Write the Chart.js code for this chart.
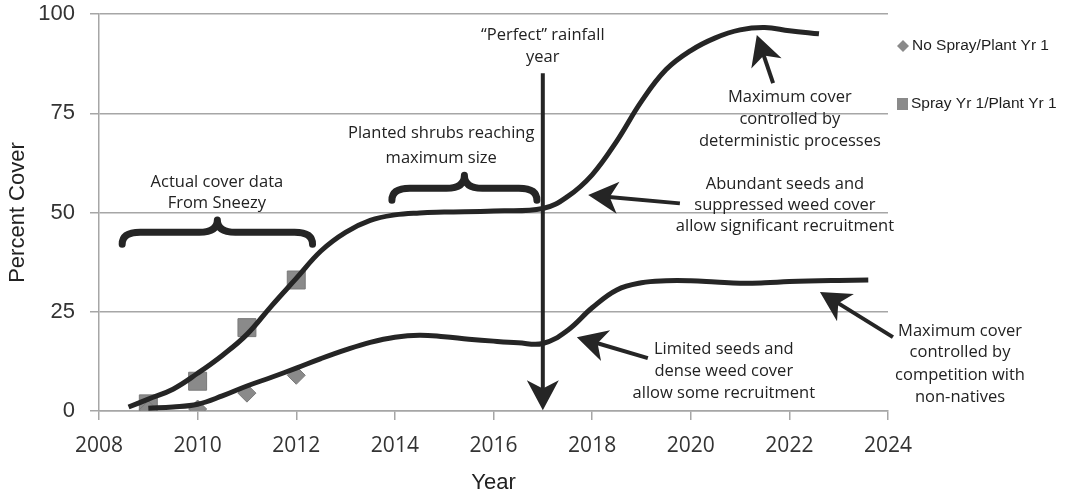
<!DOCTYPE html>
<html>
<head>
<meta charset="utf-8">
<title>Percent cover by year</title>
<script src="https://cdn.jsdelivr.net/npm/chart.js@4.4.1/dist/chart.umd.min.js"></script>
<style>
  html, body { margin: 0; padding: 0; background: #fff; }
  #wrap { width: 1067px; height: 494px; }
</style>
</head>
<body>
<div id="wrap"><canvas id="coverChart" width="1067" height="494"></canvas></div>
<script>
// measured cover (percent), one value per sampled year
const sampleYears = [2009, 2010, 2011, 2012];
const noSprayCover = [0.3, 0.5, 4.5, 9];
const sprayCover = [1.8, 7.5, 21, 33];

// projected trajectories, half-year steps
const sprayTrendYears = [2008.6, 2009, 2009.5, 2010, 2010.5, 2011, 2011.5, 2012, 2012.5, 2013,
                         2013.5, 2014, 2014.5, 2015, 2016, 2017, 2017.5, 2018, 2018.5, 2019,
                         2019.5, 2020, 2020.5, 2021, 2021.5, 2022, 2022.6];
const sprayTrend = [1, 3, 5.5, 9.5, 14, 19.3, 26.5, 33.4, 40.3, 45,
                    48, 49.4, 49.9, 50.1, 50.4, 51, 54, 59.5, 68, 78,
                    86, 90.8, 94, 96, 96.6, 95.8, 95];
const noSprayTrendYears = [2009, 2009.5, 2010, 2010.5, 2011, 2011.5, 2012, 2012.5, 2013, 2013.5,
                           2014, 2014.5, 2015, 2015.5, 2016, 2016.5, 2017, 2017.5, 2018, 2018.5,
                           2019, 2019.5, 2020, 2020.5, 2021, 2021.5, 2022, 2023, 2023.6];
const noSprayTrend = [0.7, 1, 1.7, 3.8, 6.3, 8.5, 10.8, 13.2, 15.4, 17.3,
                      18.6, 19.1, 18.7, 18.1, 17.6, 17.2, 17, 20.3, 26, 30.5,
                      32.3, 32.8, 32.8, 32.5, 32.2, 32.3, 32.6, 32.9, 33];

// axis ticks
const yearTicks = [2008, 2010, 2012, 2014, 2016, 2018, 2020, 2022, 2024];
const coverTicks = [0, 25, 50, 75, 100];

// legend labels
const seriesNames = ['No Spray/Plant Yr 1', 'Spray Yr 1/Plant Yr 1'];

// callouts, placed in year / percent units
const noteLines = [
  { x: 2010.39, y: 57.6, text: 'Actual cover data' },
  { x: 2010.39, y: 52.3, text: 'From Sneezy' },
  { x: 2014.94, y: 70.0, text: 'Planted shrubs reaching' },
  { x: 2014.94, y: 63.7, text: 'maximum size' },
  { x: 2017.0, y: 94.7, text: '\u201CPerfect\u201D rainfall' },
  { x: 2017.0, y: 89.2, text: 'year' },
  { x: 2022.01, y: 79.0, text: 'Maximum cover' },
  { x: 2022.01, y: 73.5, text: 'controlled by' },
  { x: 2022.01, y: 68.0, text: 'deterministic processes' },
  { x: 2021.91, y: 57.1, text: 'Abundant seeds and' },
  { x: 2021.91, y: 51.8, text: 'suppressed weed cover' },
  { x: 2021.91, y: 46.5, text: 'allow significant recruitment' },
  { x: 2020.67, y: 15.5, text: 'Limited seeds and' },
  { x: 2020.67, y: 10.0, text: 'dense weed cover' },
  { x: 2020.67, y: 4.5, text: 'allow some recruitment' },
  { x: 2025.46, y: 20.1, text: 'Maximum cover' },
  { x: 2025.46, y: 14.8, text: 'controlled by' },
  { x: 2025.46, y: 9.0, text: 'competition with' },
  { x: 2025.46, y: 3.5, text: 'non-natives' }
];

// arrows: tail -> tip
const arrows = [
  { from: [2017.0, 85.1], to: [2017.0, 0.2] },
  { from: [2021.67, 82.6], to: [2021.34, 94.7] },
  { from: [2019.78, 52.3], to: [2017.92, 54.4] },
  { from: [2019.13, 13.3], to: [2017.69, 18.6] },
  { from: [2024.1, 18.6], to: [2022.62, 30.0] }
];

// curly braces: x range, end / body / peak heights
const braces = [
  { x0: 2008.47, x1: 2012.33, end: 42.0, body: 45.0, peak: 48.1 },
  { x0: 2013.94, x1: 2016.88, end: 53.1, body: 56.1, peak: 59.4 }
];

const INK = '#252525';
const GRID = '#a6a6a6';
const MARKER = '#8a8a8a';

const toPoints = (xs, ys) => xs.map((x, i) => ({ x, y: ys[i] }));

function drawArrow(ctx, tx, ty, hx, hy) {
  const ang = Math.atan2(hy - ty, hx - tx);
  const ux = Math.cos(ang), uy = Math.sin(ang);
  const len = 30, half = 16;
  const bx = hx - ux * len, by = hy - uy * len;
  ctx.beginPath();
  ctx.moveTo(tx, ty);
  ctx.lineTo(hx - ux * len * 0.6, hy - uy * len * 0.6);
  ctx.stroke();
  ctx.beginPath();
  ctx.moveTo(hx, hy);
  ctx.lineTo(bx - uy * half, by + ux * half);
  ctx.lineTo(hx - ux * len * 0.72, hy - uy * len * 0.72);
  ctx.lineTo(bx + uy * half, by - ux * half);
  ctx.closePath();
  ctx.fill();
}

function drawBrace(ctx, x0, x1, yEnd, yBody, yPeak) {
  const xm = (x0 + x1) / 2;
  const r = 18;
  ctx.beginPath();
  ctx.moveTo(x0, yEnd);
  ctx.quadraticCurveTo(x0, yBody, x0 + r, yBody);
  ctx.lineTo(xm - r, yBody);
  ctx.quadraticCurveTo(xm, yBody, xm, yPeak);
  ctx.quadraticCurveTo(xm, yBody, xm + r, yBody);
  ctx.lineTo(x1 - r, yBody);
  ctx.quadraticCurveTo(x1, yBody, x1, yEnd);
  ctx.stroke();
}

const calloutPlugin = {
  id: 'callouts',
  afterDatasetsDraw(chart) {
    const { ctx, scales: { x, y } } = chart;
    ctx.save();
    ctx.strokeStyle = INK;
    ctx.fillStyle = INK;

    ctx.lineWidth = 7;
    ctx.lineCap = 'round';
    ctx.lineJoin = 'round';
    braces.forEach(b => drawBrace(ctx,
      x.getPixelForValue(b.x0), x.getPixelForValue(b.x1),
      y.getPixelForValue(b.end), y.getPixelForValue(b.body), y.getPixelForValue(b.peak)));

    ctx.lineWidth = 4;
    ctx.lineCap = 'butt';
    arrows.forEach(a => drawArrow(ctx,
      x.getPixelForValue(a.from[0]), y.getPixelForValue(a.from[1]),
      x.getPixelForValue(a.to[0]), y.getPixelForValue(a.to[1])));

    ctx.fillStyle = '#222';
    ctx.font = '16.5px "Open Sans", sans-serif';
    ctx.textAlign = 'center';
    ctx.textBaseline = 'middle';
    noteLines.forEach(n => ctx.fillText(n.text, x.getPixelForValue(n.x), y.getPixelForValue(n.y)));
    ctx.restore();
  }
};

// legend sits to the right of the plot, two rows far apart
const sideLegend = {
  id: 'sideLegend',
  afterDraw(chart) {
    const { ctx, chartArea } = chart;
    const left = chartArea.right + 9;
    const rows = [chartArea.top + 32, chartArea.top + 90];
    ctx.save();
    ctx.fillStyle = MARKER;
    // diamond
    ctx.beginPath();
    ctx.moveTo(left + 6, rows[0] - 6);
    ctx.lineTo(left + 12, rows[0]);
    ctx.lineTo(left + 6, rows[0] + 6);
    ctx.lineTo(left, rows[0]);
    ctx.closePath();
    ctx.fill();
    // square
    ctx.fillRect(left, rows[1] - 6, 11, 12);
    ctx.fillStyle = '#1e1e1e';
    ctx.font = '15.5px "Liberation Sans", Arial, sans-serif';
    ctx.textBaseline = 'middle';
    ctx.fillText(seriesNames[0], left + 15, rows[0]);
    ctx.fillText(seriesNames[1], left + 14, rows[1]);
    ctx.restore();
  }
};

new Chart(document.getElementById('coverChart'), {
  type: 'scatter',
  data: {
    datasets: [
      {
        label: seriesNames[1] + ' trend',
        data: toPoints(sprayTrendYears, sprayTrend),
        showLine: true,
        borderColor: INK,
        borderWidth: 5,
        pointRadius: 0,
        tension: 0.4,
        order: 0
      },
      {
        label: seriesNames[0] + ' trend',
        data: toPoints(noSprayTrendYears, noSprayTrend),
        showLine: true,
        borderColor: INK,
        borderWidth: 5,
        pointRadius: 0,
        tension: 0.4,
        order: 0
      },
      {
        label: seriesNames[0],
        data: toPoints(sampleYears, noSprayCover),
        pointStyle: 'rectRot',
        pointRadius: 9,
        backgroundColor: MARKER,
        borderColor: '#7a7a7a',
        borderWidth: 1,
        order: 1
      },
      {
        label: seriesNames[1],
        data: toPoints(sampleYears, sprayCover),
        pointStyle: 'rect',
        pointRadius: 12.7,
        backgroundColor: MARKER,
        borderColor: '#7a7a7a',
        borderWidth: 1,
        order: 1
      }
    ]
  },
  options: {
    responsive: false,
    animation: false,
    devicePixelRatio: 1,
    layout: { padding: { left: 0, right: 179, top: 14, bottom: 0 } },
    plugins: { legend: { display: false }, tooltip: { enabled: false } },
    scales: {
      x: {
        type: 'linear',
        min: 2008,
        max: 2024,
        afterBuildTicks: s => { s.ticks = yearTicks.map(v => ({ value: v })); },
        afterFit: s => { s.height = 83; s.paddingLeft = 0; s.paddingRight = 0; },
        ticks: {
          callback: v => String(v),
          color: '#333',
          padding: 13,
          font: { family: '"Open Sans", sans-serif', size: 21 }
        },
        grid: { drawOnChartArea: false, drawTicks: true, tickLength: 9, color: GRID, lineWidth: 1.5 },
        border: { color: GRID, width: 1.5 },
        title: {
          display: true,
          text: 'Year',
          color: '#222',
          padding: { top: 14, bottom: 0 },
          font: { family: '"Liberation Sans", Arial, sans-serif', size: 22, lineHeight: 1 }
        }
      },
      y: {
        min: 0,
        max: 100,
        afterBuildTicks: s => { s.ticks = coverTicks.map(v => ({ value: v })); },
        afterFit: s => { s.width = 99; s.paddingTop = 0; s.paddingBottom = 0; },
        ticks: {
          color: '#333',
          padding: 15,
          font: { family: '"Liberation Sans", Arial, sans-serif', size: 22 }
        },
        grid: { color: GRID, lineWidth: 1.5, tickLength: 9 },
        border: { color: GRID, width: 1.5 },
        title: {
          display: true,
          text: 'Percent Cover',
          color: '#222',
          padding: { top: 7, bottom: 0 },
          font: { family: '"Liberation Sans", Arial, sans-serif', size: 22, lineHeight: 1 }
        }
      }
    }
  },
  plugins: [calloutPlugin, sideLegend]
});
</script>
</body>
</html>
